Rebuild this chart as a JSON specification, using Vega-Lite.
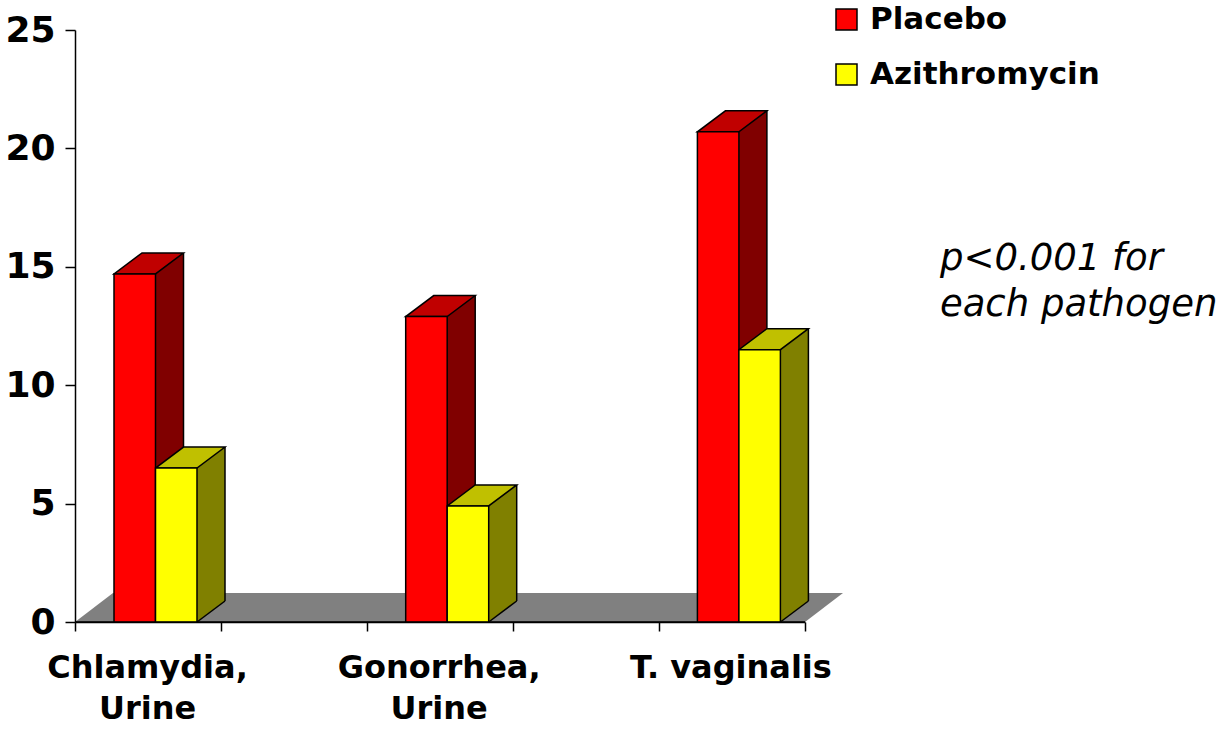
{
  "$schema": "https://vega.github.io/schema/vega-lite/v6.json",
  "width": 730,
  "height": 592,
  "autosize": {"type": "none"},
  "padding": {"left": 75, "top": 30, "right": 419, "bottom": 107},
  "background": "white",
  "config": {"view": {"stroke": null}, "font": "DejaVu Sans"},
  "data": {
    "values": [
      {"pathogen": "Chlamydia, Urine", "group": "Placebo", "value": 14.7},
      {"pathogen": "Chlamydia, Urine", "group": "Azithromycin", "value": 6.5},
      {"pathogen": "Gonorrhea, Urine", "group": "Placebo", "value": 12.9},
      {"pathogen": "Gonorrhea, Urine", "group": "Azithromycin", "value": 4.9},
      {"pathogen": "T. vaginalis", "group": "Placebo", "value": 20.7},
      {"pathogen": "T. vaginalis", "group": "Azithromycin", "value": 11.5}
    ]
  },
  "resolve": {"scale": {"x": "independent"}, "axis": {"x": "independent"}},
  "layer": [
    {
      "transform": [{"filter": "datum.pathogen == 'T. vaginalis' && datum.group == 'Placebo'"}],
      "mark": {"type": "point", "shape": "M -0.73 0 L 0.73 0 L 0.806 -0.058 L -0.654 -0.058 Z", "size": 1000000, "filled": true, "fill": "#808080", "strokeWidth": 0, "opacity": 1},
      "encoding": {"y": {"datum": 0, "type": "quantitative", "scale": {"domain": [0, 25], "nice": false},
        "axis": {"values": [0, 5, 10, 15, 20, 25], "title": null, "grid": false, "labelFont": "DejaVu Sans", "labelFontWeight": "bold", "labelFontSize": 36, "labelColor": "black", "labelPadding": 10, "tickSize": 10, "tickColor": "black", "tickWidth": 1.5, "domainColor": "black", "domainWidth": 1.5, "zindex": 1}}}
    },
    {
      "transform": [{"filter": "datum.pathogen == 'T. vaginalis' && datum.group == 'Placebo'"}],
      "mark": {"type": "rule", "color": "black", "strokeWidth": 1.5, "opacity": 1},
      "encoding": {
        "x": {"datum": 0, "type": "quantitative", "scale": {"domain": [0, 5], "nice": false, "zero": false},
              "axis": {"orient": "bottom", "values": [0, 1, 2, 3, 4, 5], "labels": false, "title": null, "grid": false, "tickSize": 9, "tickColor": "black", "tickWidth": 1.5, "domainColor": "black", "domainWidth": 1.5, "zindex": 1}},
        "x2": {"datum": 5},
        "y": {"datum": 0, "type": "quantitative",
          "axis": {"values": [0, 5, 10, 15, 20, 25], "title": null, "grid": false, "labelFont": "DejaVu Sans", "labelFontWeight": "bold", "labelFontSize": 36, "labelColor": "black", "labelPadding": 10, "tickSize": 10, "tickColor": "black", "tickWidth": 1.5, "domainColor": "black", "domainWidth": 1.5, "zindex": 1}}
      }
    },
    {
      "resolve": {"scale": {"xOffset": "independent"}},
      "layer": [
        {
          "mark": {"type": "bar", "strokeWidth": 0, "yOffset": -21, "y2Offset": -21, "opacity": 1},
          "encoding": {
            "x": {"field": "pathogen", "type": "nominal", "sort": ["Chlamydia, Urine", "Gonorrhea, Urine", "T. vaginalis"], "scale": {"range": [-65.35, 809.75], "paddingInner": 0, "paddingOuter": 0},
                  "axis": {"orient": "bottom", "title": null, "ticks": false, "domain": false, "labelAngle": 0, "labelFont": "DejaVu Sans", "labelFontWeight": "bold", "labelFontSize": 32, "labelColor": "black", "labelPadding": 30, "labelLineHeight": 41, "labelOffset": -8, "labelLimit": 400, "labelExpr": "datum.value == 'T. vaginalis' ? datum.label : split(datum.label, ' ')", "zindex": 1}},
            "xOffset": {"field": "group", "type": "nominal", "sort": ["Placebo", "Azithromycin"], "scale": {"range": [145.85, 215.35], "paddingInner": 0.3253, "paddingOuter": 0}},
            "y": {"field": "value", "type": "quantitative",
              "axis": {"values": [0, 5, 10, 15, 20, 25], "title": null, "grid": false, "labelFont": "DejaVu Sans", "labelFontWeight": "bold", "labelFontSize": 36, "labelColor": "black", "labelPadding": 10, "tickSize": 10, "tickColor": "black", "tickWidth": 1.5, "domainColor": "black", "domainWidth": 1.5, "zindex": 1}},
            "y2": {"datum": 0},
            "fill": {"condition": {"test": "datum.group == 'Placebo'", "value": "#800000"}, "value": "#808000"}
          }
        },
        {
          "mark": {"type": "point", "shape": "M 0.415 0 L 0.415 -0.44 L 0.975 -0.44 L 0.975 -0.42 Z", "size": 10000, "filled": true, "strokeWidth": 0, "opacity": 1},
          "encoding": {
            "x": {"field": "pathogen", "type": "nominal", "sort": ["Chlamydia, Urine", "Gonorrhea, Urine", "T. vaginalis"], "scale": {"range": [-65.35, 809.75], "paddingInner": 0, "paddingOuter": 0},
                  "axis": {"orient": "bottom", "title": null, "ticks": false, "domain": false, "labelAngle": 0, "labelFont": "DejaVu Sans", "labelFontWeight": "bold", "labelFontSize": 32, "labelColor": "black", "labelPadding": 30, "labelLineHeight": 41, "labelOffset": -8, "labelLimit": 400, "labelExpr": "datum.value == 'T. vaginalis' ? datum.label : split(datum.label, ' ')", "zindex": 1}},
            "xOffset": {"field": "group", "type": "nominal", "sort": ["Placebo", "Azithromycin"], "scale": {"type": "point", "range": [125.1, 166.6], "padding": 0}},
            "y": {"datum": 0, "type": "quantitative",
              "axis": {"values": [0, 5, 10, 15, 20, 25], "title": null, "grid": false, "labelFont": "DejaVu Sans", "labelFontWeight": "bold", "labelFontSize": 36, "labelColor": "black", "labelPadding": 10, "tickSize": 10, "tickColor": "black", "tickWidth": 1.5, "domainColor": "black", "domainWidth": 1.5, "zindex": 1}},
            "fill": {"condition": {"test": "datum.group == 'Placebo'", "value": "#800000"}, "value": "#808000"}
          }
        },
        {
          "mark": {"type": "rule", "yOffset": -21, "y2Offset": -21, "color": "black", "strokeWidth": 1.5, "opacity": 1},
          "encoding": {
            "x": {"field": "pathogen", "type": "nominal", "sort": ["Chlamydia, Urine", "Gonorrhea, Urine", "T. vaginalis"], "scale": {"range": [-65.35, 809.75], "paddingInner": 0, "paddingOuter": 0},
                  "axis": {"orient": "bottom", "title": null, "ticks": false, "domain": false, "labelAngle": 0, "labelFont": "DejaVu Sans", "labelFontWeight": "bold", "labelFontSize": 32, "labelColor": "black", "labelPadding": 30, "labelLineHeight": 41, "labelOffset": -8, "labelLimit": 400, "labelExpr": "datum.value == 'T. vaginalis' ? datum.label : split(datum.label, ' ')", "zindex": 1}},
            "xOffset": {"field": "group", "type": "nominal", "sort": ["Placebo", "Azithromycin"], "scale": {"type": "point", "range": [173.85, 215.35], "padding": 0}},
            "y": {"field": "value", "type": "quantitative",
              "axis": {"values": [0, 5, 10, 15, 20, 25], "title": null, "grid": false, "labelFont": "DejaVu Sans", "labelFontWeight": "bold", "labelFontSize": 36, "labelColor": "black", "labelPadding": 10, "tickSize": 10, "tickColor": "black", "tickWidth": 1.5, "domainColor": "black", "domainWidth": 1.5, "zindex": 1}},
            "y2": {"datum": 0}
          }
        },
        {
          "mark": {"type": "point", "shape": "M 0.415 0 L 0.975 -0.42", "size": 10000, "filled": false, "stroke": "black", "strokeWidth": 1.5, "opacity": 1},
          "encoding": {
            "x": {"field": "pathogen", "type": "nominal", "sort": ["Chlamydia, Urine", "Gonorrhea, Urine", "T. vaginalis"], "scale": {"range": [-65.35, 809.75], "paddingInner": 0, "paddingOuter": 0},
                  "axis": {"orient": "bottom", "title": null, "ticks": false, "domain": false, "labelAngle": 0, "labelFont": "DejaVu Sans", "labelFontWeight": "bold", "labelFontSize": 32, "labelColor": "black", "labelPadding": 30, "labelLineHeight": 41, "labelOffset": -8, "labelLimit": 400, "labelExpr": "datum.value == 'T. vaginalis' ? datum.label : split(datum.label, ' ')", "zindex": 1}},
            "xOffset": {"field": "group", "type": "nominal", "sort": ["Placebo", "Azithromycin"], "scale": {"type": "point", "range": [125.1, 166.6], "padding": 0}},
            "y": {"datum": 0, "type": "quantitative",
              "axis": {"values": [0, 5, 10, 15, 20, 25], "title": null, "grid": false, "labelFont": "DejaVu Sans", "labelFontWeight": "bold", "labelFontSize": 36, "labelColor": "black", "labelPadding": 10, "tickSize": 10, "tickColor": "black", "tickWidth": 1.5, "domainColor": "black", "domainWidth": 1.5, "zindex": 1}}
          }
        },
        {
          "mark": {"type": "point", "shape": "M -0.415 0 L 0.415 0 L 0.975 -0.42 L 0.145 -0.42 Z", "size": 10000, "filled": true, "stroke": "black", "strokeWidth": 1.5, "opacity": 1},
          "encoding": {
            "x": {"field": "pathogen", "type": "nominal", "sort": ["Chlamydia, Urine", "Gonorrhea, Urine", "T. vaginalis"], "scale": {"range": [-65.35, 809.75], "paddingInner": 0, "paddingOuter": 0},
                  "axis": {"orient": "bottom", "title": null, "ticks": false, "domain": false, "labelAngle": 0, "labelFont": "DejaVu Sans", "labelFontWeight": "bold", "labelFontSize": 32, "labelColor": "black", "labelPadding": 30, "labelLineHeight": 41, "labelOffset": -8, "labelLimit": 400, "labelExpr": "datum.value == 'T. vaginalis' ? datum.label : split(datum.label, ' ')", "zindex": 1}},
            "xOffset": {"field": "group", "type": "nominal", "sort": ["Placebo", "Azithromycin"], "scale": {"type": "point", "range": [125.1, 166.6], "padding": 0}},
            "y": {"field": "value", "type": "quantitative",
              "axis": {"values": [0, 5, 10, 15, 20, 25], "title": null, "grid": false, "labelFont": "DejaVu Sans", "labelFontWeight": "bold", "labelFontSize": 36, "labelColor": "black", "labelPadding": 10, "tickSize": 10, "tickColor": "black", "tickWidth": 1.5, "domainColor": "black", "domainWidth": 1.5, "zindex": 1}},
            "fill": {"condition": {"test": "datum.group == 'Placebo'", "value": "#C00000"}, "value": "#C0C000"}
          }
        },
        {
          "mark": {"type": "bar", "stroke": "black", "strokeWidth": 1.5, "opacity": 1},
          "encoding": {
            "x": {"field": "pathogen", "type": "nominal", "sort": ["Chlamydia, Urine", "Gonorrhea, Urine", "T. vaginalis"], "scale": {"range": [-65.35, 809.75], "paddingInner": 0, "paddingOuter": 0},
                  "axis": {"orient": "bottom", "title": null, "ticks": false, "domain": false, "labelAngle": 0, "labelFont": "DejaVu Sans", "labelFontWeight": "bold", "labelFontSize": 32, "labelColor": "black", "labelPadding": 30, "labelLineHeight": 41, "labelOffset": -8, "labelLimit": 400, "labelExpr": "datum.value == 'T. vaginalis' ? datum.label : split(datum.label, ' ')", "zindex": 1}},
            "xOffset": {"field": "group", "type": "nominal", "sort": ["Placebo", "Azithromycin"], "scale": {"range": [104.35, 187.35], "paddingInner": 0, "paddingOuter": 0}},
            "y": {"field": "value", "type": "quantitative",
              "axis": {"values": [0, 5, 10, 15, 20, 25], "title": null, "grid": false, "labelFont": "DejaVu Sans", "labelFontWeight": "bold", "labelFontSize": 36, "labelColor": "black", "labelPadding": 10, "tickSize": 10, "tickColor": "black", "tickWidth": 1.5, "domainColor": "black", "domainWidth": 1.5, "zindex": 1}},
            "y2": {"datum": 0},
            "color": {"field": "group", "type": "nominal", "sort": ["Placebo", "Azithromycin"],
                      "scale": {"domain": ["Placebo", "Azithromycin"], "range": ["#FF0000", "#FFFF00"]},
                      "legend": {"orient": "none", "legendX": 756, "legendY": -26, "title": null, "symbolType": "square", "symbolSize": 441, "symbolStrokeColor": "black", "symbolStrokeWidth": 1.5, "symbolOpacity": 1, "labelFont": "DejaVu Sans", "labelFontWeight": "bold", "labelFontSize": 31, "labelColor": "black", "labelOffset": 8, "labelLimit": 400, "rowPadding": 23, "padding": 0}}
          }
        },
        {
          "transform": [{"filter": "datum.pathogen == 'T. vaginalis' && datum.group == 'Placebo'"}],
          "mark": {"type": "text", "text": ["p<0.001 for", "each pathogen"], "font": "DejaVu Sans", "fontStyle": "italic", "fontSize": 37, "lineHeight": 46, "align": "left", "baseline": "alphabetic", "xOffset": 201, "color": "black"},
          "encoding": {
            "x": {"datum": "T. vaginalis", "type": "nominal", "scale": {"range": [-65.35, 809.75], "paddingInner": 0, "paddingOuter": 0},
                  "axis": {"orient": "bottom", "title": null, "ticks": false, "domain": false, "labelAngle": 0, "labelFont": "DejaVu Sans", "labelFontWeight": "bold", "labelFontSize": 32, "labelColor": "black", "labelPadding": 30, "labelLineHeight": 41, "labelOffset": -8, "labelLimit": 400, "labelExpr": "datum.value == 'T. vaginalis' ? datum.label : split(datum.label, ' ')", "zindex": 1}},
            "y": {"datum": 14.86, "type": "quantitative",
              "axis": {"values": [0, 5, 10, 15, 20, 25], "title": null, "grid": false, "labelFont": "DejaVu Sans", "labelFontWeight": "bold", "labelFontSize": 36, "labelColor": "black", "labelPadding": 10, "tickSize": 10, "tickColor": "black", "tickWidth": 1.5, "domainColor": "black", "domainWidth": 1.5, "zindex": 1}}
          }
        }
      ]
    }
  ]
}
